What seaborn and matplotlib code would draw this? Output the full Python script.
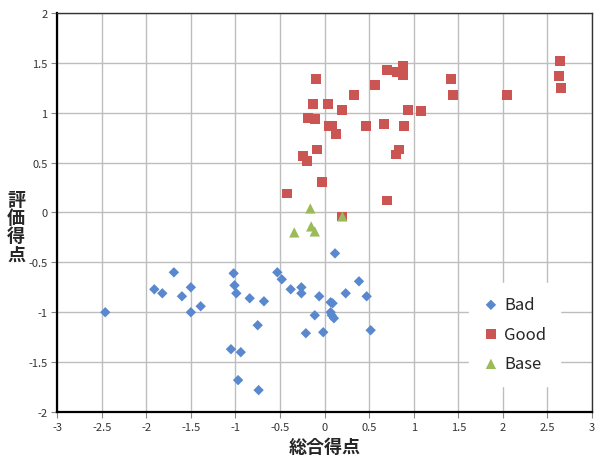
import numpy as np
import matplotlib
matplotlib.use('Agg')
import matplotlib.pyplot as plt
import pandas as pd
import seaborn as sns

# 読み取ったデータ
bad_x = [-2.46, -1.91, -1.82, -1.69, -1.60, -1.50, -1.50, -1.39, -1.02, -1.01,
         -0.99, -0.84, -0.68, -0.75, -1.05, -0.94, -0.97, -0.74, -0.53, -0.48,
         -0.38, -0.26, -0.26, -0.06, -0.21, -0.11, -0.015, 0.117, 0.386, 0.237,
         0.472, 0.517, 0.068, 0.09, 0.068, 0.08, 0.105]
bad_y = [-1.00, -0.77, -0.81, -0.60, -0.84, -0.75, -1.00, -0.94, -0.61, -0.73,
         -0.81, -0.86, -0.89, -1.13, -1.37, -1.40, -1.68, -1.78, -0.60, -0.67,
         -0.77, -0.75, -0.81, -0.84, -1.21, -1.03, -1.20, -0.41, -0.69, -0.81,
         -0.84, -1.18, -0.90, -0.91, -1.00, -1.03, -1.06]

good_x = [2.64, 2.63, 2.65, 2.045, 1.417, 1.44, 1.08, 0.935, 0.894, 0.883,
          0.883, 0.808, 0.696, 0.834, 0.804, 0.696, 0.67, 0.468, 0.565, 0.333,
          0.195, 0.124, 0.087, 0.05, 0.038, -0.093, -0.13, -0.108, -0.183, -0.082,
          -0.029, -0.245, -0.2, 0.2, -0.418]
good_y = [1.52, 1.37, 1.245, 1.18, 1.34, 1.175, 1.015, 1.03, 0.87, 1.47,
          1.375, 1.405, 1.43, 0.63, 0.58, 0.12, 0.887, 0.87, 1.278, 1.175,
          1.03, 0.787, 0.87, 0.87, 1.085, 1.34, 1.09, 0.937, 0.947, 0.63,
          0.309, 0.563, 0.513, -0.04, 0.19]

base_x = [-0.16, -0.34, -0.15, -0.11, 0.2]
base_y = [0.04, -0.2, -0.14, -0.19, -0.04]

groups = ['Bad', 'Good', 'Base']
colors = {'Bad': '#5A88CE', 'Good': '#CB5553', 'Base': '#9BBB59'}
markers = {'Bad': 'D', 'Good': 's', 'Base': '^'}
msizes = {'Bad': 28, 'Good': 50, 'Base': 55}

df = pd.DataFrame({
    'x': bad_x + good_x + base_x,
    'y': bad_y + good_y + base_y,
    'group': ['Bad'] * len(bad_x) + ['Good'] * len(good_x) + ['Base'] * len(base_x),
})

sns.set_style('white')
plt.rcParams['font.family'] = ['Noto Sans CJK JP', 'DejaVu Sans']

fig = plt.figure(figsize=(5.95, 4.6), dpi=100)
ax = fig.add_axes([0.096, 0.102, 0.899, 0.868])

for g in groups:
    sns.scatterplot(data=df[df['group'] == g], x='x', y='y', ax=ax,
                    color=colors[g], marker=markers[g], s=msizes[g],
                    edgecolor='none', label=g, zorder=3)

ax.set_xlim(-3, 3)
ax.set_ylim(-2, 2)
ax.set_xticks(np.arange(-3, 3.01, 0.5))
ax.set_yticks(np.arange(-2, 2.01, 0.5))
ax.set_xticklabels(['-3', '-2.5', '-2', '-1.5', '-1', '-0.5', '0', '0.5', '1', '1.5', '2', '2.5', '3'])
ax.set_yticklabels(['-2', '-1.5', '-1', '-0.5', '0', '0.5', '1', '1.5', '2'])
ax.grid(True, color='#BDBDBD', linewidth=1.0, zorder=0)
ax.set_axisbelow(True)
ax.tick_params(axis='both', which='both', direction='out', length=4, width=0.8,
               color='#888888', labelsize=8, labelcolor='#333333', pad=3,
               bottom=True, left=True)
for side in ['left', 'bottom']:
    ax.spines[side].set_color('black')
    ax.spines[side].set_linewidth(1.6)
for side in ['top', 'right']:
    ax.spines[side].set_color('#333333')
    ax.spines[side].set_linewidth(1.0)

ax.set_xlabel('総合得点', fontsize=13, fontweight='bold', labelpad=4)
ax.set_ylabel('')
fig.text(0.027, 0.505, '評\n価\n得\n点', fontsize=13, fontweight='bold',
         ha='center', va='center', linespacing=0.95)

leg = ax.legend(loc='center', bbox_to_anchor=(0.855, 0.195), frameon=True,
                fontsize=12, labelspacing=0.75, handletextpad=0.3,
                handlelength=1.0, borderpad=0.8, markerscale=1.0)
leg.get_frame().set_facecolor('white')
leg.get_frame().set_edgecolor('white')
leg.get_frame().set_alpha(1)
leg.set_zorder(5)

plt.savefig('out.png', dpi=100)
